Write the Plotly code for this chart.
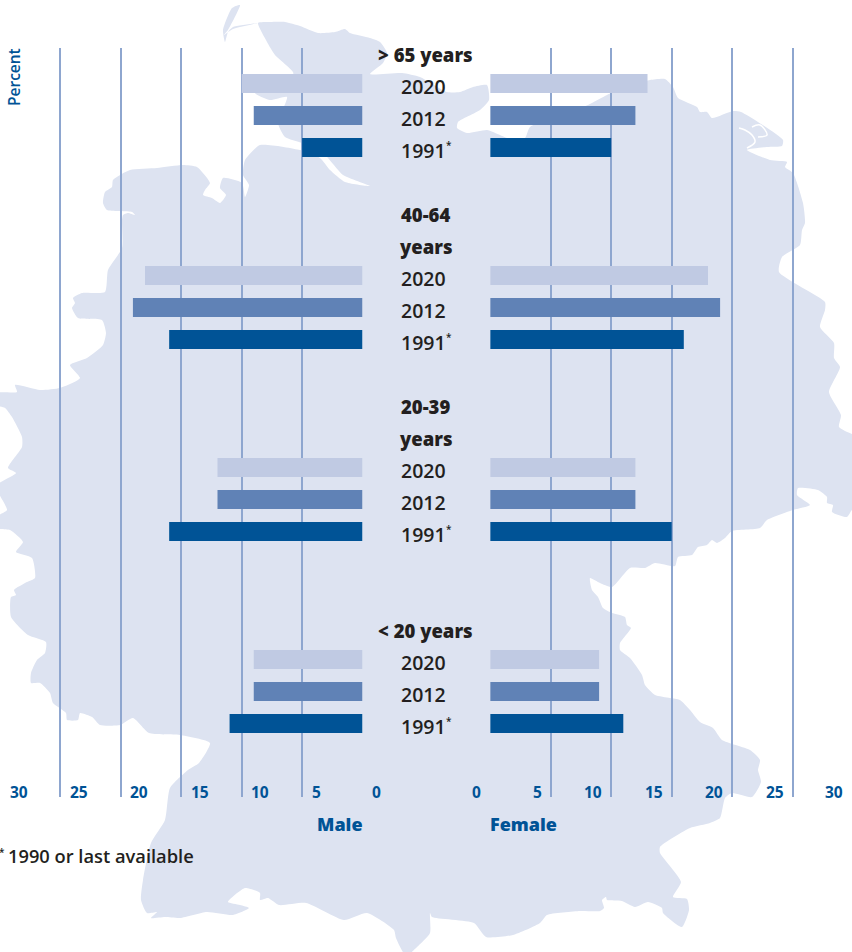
import plotly.graph_objects as go

# ---------- data ----------
years = ["2020", "2012", "1991"]
age_headers = [["> 65 years"], ["40-64", "years"], ["20-39", "years"], ["< 20 years"]]
male_2020 = [10, 18, 12, 9]
male_2012 = [9, 19, 12, 9]
male_1991 = [5, 16, 16, 11]
female_2020 = [13, 18, 12, 9]
female_2012 = [12, 19, 12, 9]
female_1991 = [10, 16, 15, 11]
axis_ticks = [0, 5, 10, 15, 20, 25, 30]
# rows of the chart (one row = one text line or bar)
header_rows = [[0], [5, 6], [11, 12], [18]]
bar_rows = [[1, 2, 3], [7, 8, 9], [13, 14, 15], [19, 20, 21]]

# silhouette of the background map, canvas pixels
map_x = [258,270,285,300,318,335,345,350,370,380,387,383,370,402,420,447,460,473,487,489,480,458,457,467,487,500,507,525,530,588,607,622,650,665,673,678,697,700,707,712,733,741,783,782,767,747,770,787,785,793,803,805,802,800,782,779,825,825,820,834,834,840,829,841,839,852,860,860,852,847,832,833,827,827,818,798,797,810,793,767,760,732,725,717,712,707,698,692,678,675,655,645,630,612,600,590,592,598,603,612,625,627,631,620,620,630,642,645,655,670,680,690,700,713,722,750,760,758,761,752,732,725,720,710,690,660,660,681,673,687,689,682,663,662,648,635,622,607,606,602,604,600,580,547,540,513,486,474,432,430,430,417,406,396,394,367,344,306,279,268,260,260,245,228,240,249,233,207,180,165,151,157,147,141,143,151,165,170,188,199,210,180,149,133,120,100,92,80,78,67,66,53,50,40,31,31,37,45,46,28,11,11,16,14,27,35,32,16,23,10,-4,-4,7,-4,16,8,22,22,12,5,-4,-4,17,15,40,60,80,70,87,103,106,102,78,72,75,73,82,105,108,122,122,123,128,135,132,107,103,105,112,113,130,157,183,197,210,205,203,212,220,226,220,223,242,245,249,243,245,260,300,320,330,345,370,343,325,302,285,278,287,270,255,293,293,275,267,258,None,240,232,223,225,228,233,258,233,224,228,240]
map_y = [23,22,22,26,33,32,29,33,38,42,53,63,74,73,77,92,92,87,85,100,110,122,128,133,130,135,138,138,127,105,95,88,80,79,87,98,107,112,112,118,111,112,140,146,147,150,160,162,167,173,203,223,230,245,257,272,302,310,327,343,358,367,392,415,427,434,436,508,510,517,512,505,503,497,490,488,495,505,510,520,528,531,538,543,540,545,547,555,557,566,563,568,568,587,583,578,590,597,608,613,617,625,628,643,650,658,675,685,695,698,700,710,722,728,740,750,760,770,782,797,793,798,818,823,828,847,853,882,897,899,910,927,913,908,902,907,901,900,897,900,908,911,911,915,923,935,937,923,917,913,933,947,956,938,930,913,920,903,905,898,900,893,888,902,905,908,915,912,918,917,918,912,913,900,880,843,820,788,770,763,743,735,733,718,725,725,717,713,720,720,713,703,693,683,683,673,660,653,642,635,617,597,595,590,582,578,558,552,542,530,528,517,510,486,473,468,447,437,417,408,405,393,392,385,390,388,378,365,358,345,333,320,318,308,303,298,293,292,270,248,220,215,213,215,212,210,203,192,187,180,170,168,165,167,183,190,195,198,203,195,188,178,183,197,185,175,160,145,150,158,170,182,186,175,155,143,137,123,97,100,93,78,72,55,42,23,None,5,8,30,42,32,27,23,29,35,30,5]
# thin lagoon lines on the north-east coast of the map
lagoon_x = [739,745,752,755,747,None,752,760,767,758]
lagoon_y = [128,130,135,142,148,None,127,125,135,137]

INK = "#231f20"
BLUE = "#005396"
GRID = "#8ea6cf"
YEAR_COLORS = ["#c0cae3", "#6082b6", "#005396"]
FONT = "Open Sans"

W, H = 852, 952
ROW_H = 32
ROW0_PX = 51.5
TOP_PX, BOT_PX = 48, 797
row_range = [(BOT_PX - ROW0_PX) / ROW_H, (TOP_PX - ROW0_PX) / ROW_H]
FEMALE_X0 = 490.2
female_max = (W - FEMALE_X0) / 12.1

male = [male_2020, male_2012, male_1991]
female = [female_2020, female_2012, female_1991]

fig = go.Figure()
# background map
fig.add_trace(go.Scatter(x=map_x, y=map_y, xaxis="x", yaxis="y", mode="lines",
                         line=dict(color="#dde3f1", width=0, shape="spline", smoothing=0.55),
                         fill="toself", fillcolor="#dde3f1", hoverinfo="skip", showlegend=False))
fig.add_trace(go.Scatter(x=lagoon_x, y=lagoon_y, xaxis="x", yaxis="y", mode="lines",
                         line=dict(color="white", width=1.5, shape="spline"), hoverinfo="skip", showlegend=False))

for k, yr in enumerate(years):
    rows = [r[k] for r in bar_rows]
    fig.add_trace(go.Bar(y=rows, x=male[k], orientation="h", xaxis="x2", yaxis="y2", width=19 / ROW_H,
                         marker=dict(color=YEAR_COLORS[k], line=dict(width=0)), name=yr, showlegend=False))
    fig.add_trace(go.Bar(y=rows, x=female[k], orientation="h", xaxis="x3", yaxis="y3", width=19 / ROW_H,
                         marker=dict(color=YEAR_COLORS[k], line=dict(width=0)), name=yr, showlegend=False))

ann = []
def text(s, x, y, xref="paper", yref="y2", size=16, color=INK, weight=600, xanchor="center", **kw):
    ann.append(dict(text=s, x=x, y=y, xref=xref, yref=yref, showarrow=False, xanchor=xanchor, yanchor="middle",
                    font=dict(family=FONT, size=size, color=color, weight=weight), **kw))

CENTER = 425.5 / W
YEAR_CENTER = 423.5 / W
for hdr, hrows, brows in zip(age_headers, header_rows, bar_rows):
    for s, r in zip(hdr, hrows):
        text(s, CENTER, r, size=18.5, weight=800, yshift=-3)
    for s, r in zip(years, brows):
        text(s, YEAR_CENTER, r, size=19.5, weight=600, yshift=-3)
    text("*", 449 / W, brows[2], size=10, weight=600, yshift=3)

for t in axis_ticks:
    text(str(t), t, 792, xref="x2", yref="y", size=15.5, color=BLUE, weight=700, xanchor="left", xshift=7.5)
    if t <= female_max:
        text(str(t), t, 792, xref="x3", yref="y", size=15.5, color=BLUE, weight=700, xanchor="right", xshift=-7)
    else:
        text(str(t), 1, 792, yref="y", size=15.5, color=BLUE, weight=700, xanchor="right", xshift=-7)

text("Male", 365 / W, 824, yref="y", size=18, color=BLUE, weight=800, xanchor="right")
text("Female", 488 / W, 824, yref="y", size=18, color=BLUE, weight=800, xanchor="left")
text("1990 or last available", 6 / W, 855.5, yref="y", size=18.3, weight=600, xanchor="left")
text("*", 2 / W, 852, yref="y", size=10, weight=600)
text("Percent", 14 / W, 77, yref="y", size=15.5, color=BLUE, weight=600, textangle=-90)

fig.update_layout(
    width=W, height=H, margin=dict(l=0, r=0, t=0, b=0), paper_bgcolor="white", plot_bgcolor="rgba(0,0,0,0)",
    autosize=False, showlegend=False, barmode="overlay", annotations=ann,
    font=dict(family=FONT, color=INK),
    xaxis=dict(domain=[0, 1], range=[0, W], visible=False),
    yaxis=dict(domain=[0, 1], range=[H, 0], visible=False),
    xaxis2=dict(domain=[0, 362.5 / W], range=[30, 0], anchor="y2", tickvals=axis_ticks, showticklabels=False,
                showgrid=True, gridcolor=GRID, gridwidth=1.5, zeroline=False, showline=False, ticks=""),
    yaxis2=dict(domain=[1 - BOT_PX / H, 1 - TOP_PX / H], range=row_range, anchor="x2", visible=False),
    xaxis3=dict(domain=[FEMALE_X0 / W, 1], range=[0, female_max], anchor="y3", tickvals=axis_ticks,
                showticklabels=False, showgrid=True, gridcolor=GRID, gridwidth=1.5, zeroline=False, showline=False, ticks=""),
    yaxis3=dict(domain=[1 - BOT_PX / H, 1 - TOP_PX / H], range=row_range, anchor="x3", visible=False),
)
fig.write_html("out.html", config=dict(displayModeBar=False),
               post_script="document.body.style.margin='0';document.body.style.overflow='hidden';")
